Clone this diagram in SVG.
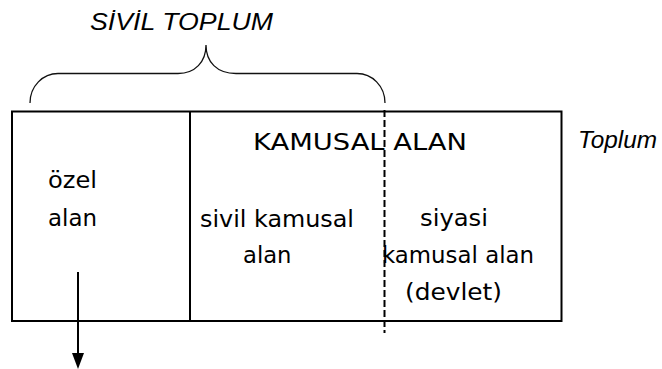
<svg xmlns="http://www.w3.org/2000/svg" width="662" height="369" viewBox="0 0 662 369">
  <style>
    .frame { fill: none; stroke: #000; stroke-width: 2; }
    .brace { fill: none; stroke: #111; stroke-width: 1.3; }
    .dash { fill: none; stroke: #000; stroke-width: 2; stroke-dasharray: 7 3; }
    .hand { font-family: "DejaVu Sans", "Liberation Sans", sans-serif; font-size: 23px; fill: #000; }
    .label { font-family: "Liberation Sans", Arial, sans-serif; font-style: italic; fill: #000; }
    .arrow-shaft { stroke: #000; stroke-width: 2; }
    .arrow-head { fill: #000; }
  </style>

  <rect width="662" height="369" fill="#fff"/>

  <!-- society frame with its inner partitions -->
  <g id="toplum-frame">
    <rect class="frame" x="12" y="111.5" width="549.5" height="209.5"/>
    <line class="frame" x1="190" y1="111.5" x2="190" y2="321"/>
    <text class="label" x="578" y="148" font-size="23" textLength="79" lengthAdjust="spacingAndGlyphs">Toplum</text>
  </g>

  <!-- brace over the civil society part -->
  <g id="sivil-toplum">
    <path class="brace" d="M30,103 C30,86 43,73.5 58,73.5 L178,73.5 C195,73.5 206,62 206,45 C206,62 217,73.5 236,73.5 L357,73.5 C372,73.5 385,86 385,103"/>
    <text class="label" x="90" y="29.5" font-size="24.5" textLength="183" lengthAdjust="spacingAndGlyphs">SİVİL TOPLUM</text>
  </g>

  <g id="ozel-alan">
    <text class="hand" x="48" y="188" textLength="49" lengthAdjust="spacingAndGlyphs">özel</text>
    <text class="hand" x="48" y="226" textLength="49" lengthAdjust="spacingAndGlyphs">alan</text>
  </g>

  <g id="kamusal-alan">
    <text class="hand" x="253" y="150" textLength="214" lengthAdjust="spacingAndGlyphs">KAMUSAL ALAN</text>
  </g>

  <g id="sivil-kamusal-alan">
    <text class="hand" x="200" y="226.5" textLength="154" lengthAdjust="spacingAndGlyphs">sivil kamusal</text>
    <text class="hand" x="243" y="263" textLength="48.5" lengthAdjust="spacingAndGlyphs">alan</text>
  </g>

  <g id="siyasi-kamusal-alan">
    <text class="hand" x="420" y="226" textLength="68" lengthAdjust="spacingAndGlyphs">siyasi</text>
    <text class="hand" x="382" y="263" textLength="152" lengthAdjust="spacingAndGlyphs">kamusal alan</text>
    <text class="hand" x="405" y="300" textLength="97" lengthAdjust="spacingAndGlyphs">(devlet)</text>
  </g>

  <!-- connectors: civil/political boundary and the outgoing arrow -->
  <g id="connectors">
    <line class="dash" x1="384.5" y1="110" x2="384.5" y2="333"/>
    <line class="arrow-shaft" x1="78" y1="272" x2="78" y2="356"/>
    <path class="arrow-head" d="M72,353 L84,353 L78,369 Z"/>
  </g>
</svg>
